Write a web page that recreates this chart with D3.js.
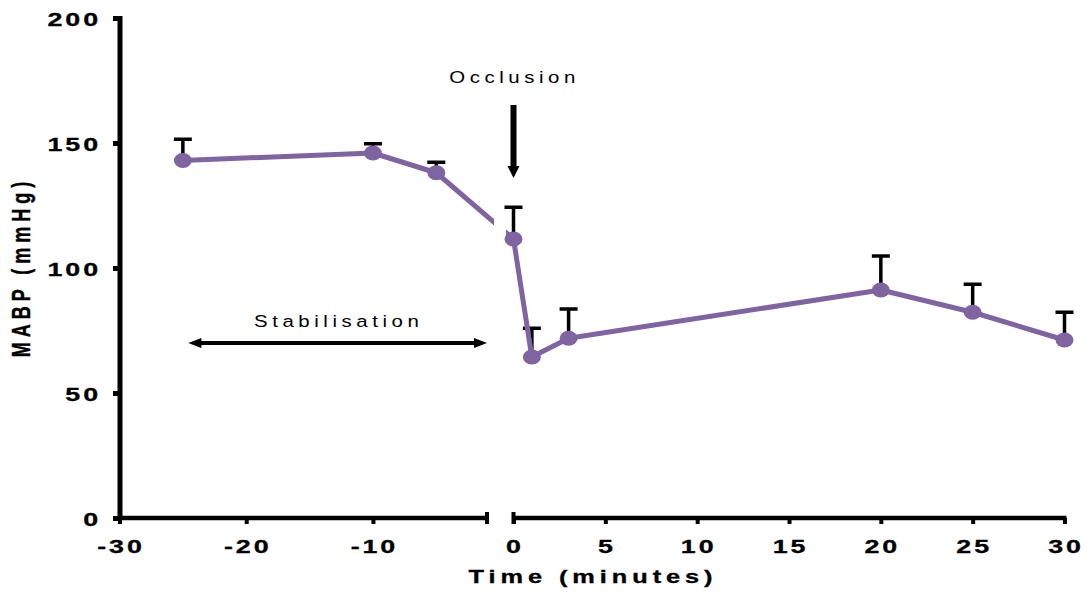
<!DOCTYPE html>
<html>
<head>
<meta charset="utf-8">
<script src="https://cdn.jsdelivr.net/npm/d3@7/dist/d3.min.js"></script>
<style>
  html, body { margin: 0; padding: 0; background: #ffffff; }
  svg { display: block; }
</style>
</head>
<body>
<script>
// ---- data ----
const timesPre = [-25, -10, -5];
const valuesPre = [143, 146, 138.1];
const semPre = [8.5, 3.7, 4.2];

const timesPost = [0, 1, 3, 20, 25, 30];
const valuesPost = [111.6, 64.4, 71.9, 91.2, 82.3, 71.2];
const semPost = [12.7, 11.5, 11.7, 13.6, 11.2, 11.1];

const yTicks = [0, 50, 100, 150, 200];
const xTicksPre = [-30, -20, -10];
const xTicksPost = [0, 5, 10, 15, 20, 25, 30];

const yLabel = "MABP (mmHg)";
const xLabel = "Time (minutes)";
const occlusionLabel = "Occlusion";
const stabLabel = "Stabilisation";

// ---- layout ----
const W = 1087, H = 594;
const purple = "#8064A2";
const FONT = "'Liberation Sans', Arial, sans-serif";
const fmt = d => String(d);

const svg = d3.select("body").append("svg").attr("width", W).attr("height", H);

const y = d3.scaleLinear().domain([0, 200]).range([518, 18]);
const xL = d3.scaleLinear().domain([-30, -1]).range([119.5, 487]);
const xR = d3.scaleLinear().domain([0, 30]).range([513.5, 1064.5]);

// ---- axes ----
const gy = svg.append("g").attr("transform", "translate(120,0)")
  .call(d3.axisLeft(y).tickValues(yTicks).tickFormat(fmt).tickSize(7).tickSizeOuter(0));
gy.select(".domain").attr("stroke-width", 5).attr("d", `M0,${y(200) - 2}V${y(0) + 2}`);
gy.selectAll(".tick line").attr("stroke-width", 5);
gy.selectAll(".tick text")
  .attr("x", 0).attr("dy", "0.36em")
  .attr("transform", "translate(-19,1) scale(1.45,1)")
  .attr("font-family", FONT).attr("font-weight", "bold").attr("font-size", 18.5)
  .attr("letter-spacing", 2).attr("fill", "#000")
  .attr("stroke", "#000").attr("stroke-width", 0.3);

function styleX(g, path) {
  g.select(".domain").attr("stroke-width", 4.5).attr("d", path);
  g.selectAll(".tick line").attr("stroke-width", 4);
  g.selectAll(".tick text")
    .attr("y", 0).attr("dy", 0)
    .attr("transform", "translate(1,35) scale(1.45,1)")
    .attr("font-family", FONT).attr("font-weight", "bold").attr("font-size", 18.5)
    .attr("letter-spacing", 2).attr("fill", "#000")
    .attr("stroke", "#000").attr("stroke-width", 0.3);
}
const gxL = svg.append("g").attr("transform", "translate(0,518)")
  .call(d3.axisBottom(xL).tickValues(xTicksPre).tickFormat(fmt).tickSize(6).tickSizeOuter(0));
styleX(gxL, `M117.5,0H${xL(-1)}`);
const gxR = svg.append("g").attr("transform", "translate(0,518)")
  .call(d3.axisBottom(xR).tickValues(xTicksPost).tickFormat(fmt).tickSize(6).tickSizeOuter(0));
styleX(gxR, `M${xR(0)},0H${xR(30) + 2}`);

// break markers
svg.append("line").attr("x1", xL(-1)).attr("x2", xL(-1)).attr("y1", 512).attr("y2", 524)
  .attr("stroke", "#000").attr("stroke-width", 4);
svg.append("line").attr("x1", xR(0)).attr("x2", xR(0)).attr("y1", 512).attr("y2", 524)
  .attr("stroke", "#000").attr("stroke-width", 4);

// axis titles
svg.append("text").text(xLabel)
  .attr("transform", "translate(593,583) scale(1.45,1)")
  .attr("text-anchor", "middle")
  .attr("font-family", FONT).attr("font-weight", "bold").attr("font-size", 17.5)
  .attr("letter-spacing", 3.4).attr("fill", "#000")
  .attr("stroke", "#000").attr("stroke-width", 0.3);
svg.append("text").text(yLabel)
  .attr("transform", "translate(30,267) rotate(-90) scale(1,1.4)")
  .attr("text-anchor", "middle")
  .attr("font-family", FONT).attr("font-weight", "bold").attr("font-size", 18)
  .attr("letter-spacing", 5).attr("fill", "#000")
  .attr("stroke", "#000").attr("stroke-width", 0.3);

// ---- data marks ----
const pts = timesPre.map((t, i) => ({ x: xL(t), v: valuesPre[i], s: semPre[i] }))
  .concat(timesPost.map((t, i) => ({ x: xR(t), v: valuesPost[i], s: semPost[i] })));

// error bars (upper)
const eb = svg.append("g").attr("stroke", "#000").attr("stroke-width", 3.5);
eb.selectAll("line.stem").data(pts).join("line").attr("class", "stem")
  .attr("x1", d => d.x).attr("x2", d => d.x)
  .attr("y1", d => y(d.v)).attr("y2", d => y(d.v + d.s));
eb.selectAll("line.cap").data(pts).join("line").attr("class", "cap")
  .attr("x1", d => d.x - 9).attr("x2", d => d.x + 9)
  .attr("y1", d => y(d.v + d.s)).attr("y2", d => y(d.v + d.s));

// clip gap for the axis break
const defs = svg.append("defs");
const cp = defs.append("clipPath").attr("id", "gap");
cp.append("rect").attr("x", 0).attr("y", 0).attr("width", 494).attr("height", H);
cp.append("rect").attr("x", 506).attr("y", 0).attr("width", W - 506).attr("height", H);

svg.append("path").datum(pts)
  .attr("clip-path", "url(#gap)")
  .attr("fill", "none").attr("stroke", purple).attr("stroke-width", 5)
  .attr("stroke-linejoin", "round")
  .attr("d", d3.line().x(d => d.x).y(d => y(d.v)));

svg.append("g").selectAll("ellipse").data(pts).join("ellipse")
  .attr("cx", d => d.x).attr("cy", d => y(d.v))
  .attr("rx", 9).attr("ry", 7.5).attr("fill", purple);

// ---- annotations ----
// Occlusion
const ox = xR(0);
svg.append("text").text(occlusionLabel)
  .attr("transform", `translate(${ox + 1},83) scale(1.2,1)`)
  .attr("text-anchor", "middle")
  .attr("font-family", FONT).attr("font-size", 17)
  .attr("letter-spacing", 3.8).attr("fill", "#000");
svg.append("line").attr("x1", ox).attr("x2", ox).attr("y1", 105).attr("y2", 167)
  .attr("stroke", "#000").attr("stroke-width", 6);
svg.append("path").attr("d", `M${ox - 6},166L${ox + 6},166L${ox},178Z`).attr("fill", "#000");

// Stabilisation
const sy = 343, sx1 = xL(-25) + 5.5, sx2 = xL(-1);
svg.append("text").text(stabLabel)
  .attr("transform", `translate(${(sx1 + sx2) / 2 + 1},327) scale(1.2,1)`)
  .attr("text-anchor", "middle")
  .attr("font-family", FONT).attr("font-size", 17)
  .attr("letter-spacing", 3.8).attr("fill", "#000");
svg.append("line").attr("x1", sx1 + 8).attr("x2", sx2 - 8).attr("y1", sy).attr("y2", sy)
  .attr("stroke", "#000").attr("stroke-width", 4);
svg.append("path").attr("d", `M${sx1},${sy}L${sx1 + 13},${sy - 5}L${sx1 + 13},${sy + 5}Z`).attr("fill", "#000");
svg.append("path").attr("d", `M${sx2},${sy}L${sx2 - 13},${sy - 5}L${sx2 - 13},${sy + 5}Z`).attr("fill", "#000");
</script>
</body>
</html>
